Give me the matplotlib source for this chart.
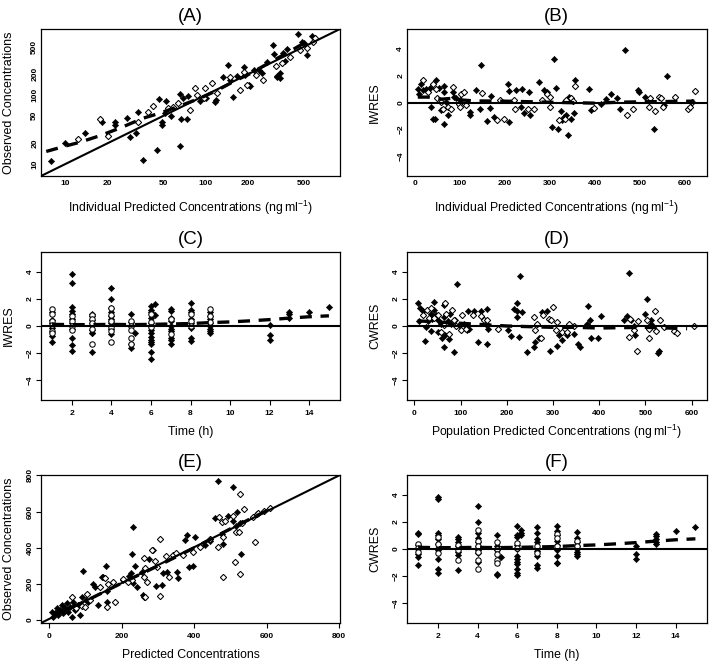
import matplotlib
matplotlib.use("Agg")
import matplotlib.pyplot as plt
import numpy as np

plt.rcParams['font.family'] = ['Liberation Sans', 'DejaVu Sans']
plt.rcParams['mathtext.fontset'] = 'custom'
plt.rcParams['mathtext.rm'] = 'Liberation Sans'
plt.rcParams['mathtext.it'] = 'Liberation Sans:italic'
plt.rcParams['mathtext.bf'] = 'Liberation Sans:bold'
plt.rcParams['mathtext.default'] = 'rm'

# ---------------- Panel A: observed vs individual predicted (log-log) ----------------
a_ipred_filled = [7.9, 10, 13.7, 18.1, 22.5, 22.5, 27.3, 28.7, 32, 33, 35.9, 45.2, 46.6, 49, 49, 52, 51, 57,
                  65.6, 67, 66, 69, 73, 75, 91, 101, 118, 116, 132, 145, 157, 149, 166, 186, 190, 202, 207,
                  222, 238, 250, 272, 302, 307, 322, 322, 339, 357, 382, 339, 370, 458, 571, 530, 485, 500]
a_obs_filled = [11.0, 20.1, 28, 40, 40, 37, 46.7, 25, 28, 57, 11.3, 15.8, 88, 37, 40, 83, 54.6, 50,
                18, 44.8, 104, 90, 45, 97, 81, 90, 86, 78, 181, 272, 95, 165, 190, 258, 195, 140, 135,
                227, 230, 205, 302, 528, 394, 190, 181, 205, 411, 470, 179, 310, 763, 720, 380, 580, 560]
a_ipred_open = [12.2, 17.6, 20.2, 33, 38.9, 41.8, 54, 58.8, 63.8, 77.4, 86, 84, 97, 98, 110, 120, 149, 176,
                188, 196, 227, 257, 315, 348, 400, 470, 530, 585, 600]
a_obs_open = [23, 44.8, 25.7, 41.3, 57.6, 69.6, 64.5, 68, 76, 61, 101, 125, 90, 125, 148, 108, 182, 118,
              216, 138, 194, 166, 263, 289, 360, 444, 473, 590, 660]
a_smooth_x = [7.3, 10.2, 12.6, 17.6, 24.4, 35.9, 47.2, 65.6, 91, 120, 158, 207, 272, 358, 421, 498, 571]
a_smooth_y = [15.2, 18.4, 20.6, 25.7, 33.1, 46.2, 54.6, 69.6, 90, 116, 157, 204, 280, 381, 460, 560, 639]

# ---------------- Panel B: IWRES vs individual predicted ----------------
b_ipred_filled = [7.4, 10, 14, 18, 26, 33, 37, 41, 48, 44, 55, 58, 65, 66, 66, 70, 74, 85, 88, 92, 100,
                  122, 122, 137, 144, 146, 161, 170, 166, 176, 208, 210, 210, 224, 236, 238, 243, 253, 256,
                  275, 286, 294, 305, 308, 314, 318, 325, 326, 331, 336, 341, 343, 347, 353, 356, 387, 392,
                  413, 424, 435, 448, 456, 466, 496, 498, 511, 530, 559, 553]
b_iwres_filled = [1.0, 0.65, 1.4, 0.9, 1.0, 1.1, -0.3, -1.2, 1.65, -1.2, 1.1, -0.55, 1.25, 0.8, -1.6, 0.05,
                  -0.95, 0.8, 0.4, 0.3, 0.15, -0.95, -0.7, 0.95, -0.45, 2.8, -1.35, 0.45, -0.4, -1.05, 1.4,
                  0.85, -1.43, 0.9, -0.35, 1.0, -0.75, 0.77, -0.95, 1.5, 0.9, 0.77, -1.85, 3.2, 1.1, -2.0,
                  -0.6, -1.3, -1.1, -0.95, -2.4, 0.4, -1.2, -0.8, 1.7, 1.0, -0.55, -0.1, 0.25, 0.65, 0.35,
                  -0.45, 3.9, 0.95, 0.8, 0.4, -2.0, 1.95, -0.15]
b_ipred_open = [18, 29, 41, 48, 50, 59, 63, 74, 81, 85, 98, 100, 103, 110, 114, 149, 183, 190, 198, 220,
                223, 251, 264, 282, 294, 299, 301, 321, 334, 336, 347, 352, 356, 397, 471, 483, 520, 522,
                533, 541, 546, 551, 578, 606, 611, 615, 622]
b_iwres_open = [1.7, 0.77, 1.4, 1.0, 0.3, 0.05, -0.45, -0.3, -0.45, 1.15, -0.1, -0.35, 0.65, 0.8, -0.2,
                0.7, -1.3, 0.15, -1.2, 0.15, -0.5, -0.45, -0.45, 0.2, 0.65, 0.4, -0.3, -1.3, -1.2, 0.2, 0.3,
                0.1, 1.25, -0.4, -0.95, -0.45, -0.35, 0.3, -0.6, 0.4, 0.3, -0.3, 0.4, -0.5, -0.3, 0.05, 0.85]
b_smooth_x = [7, 30, 60, 80, 100, 130, 200, 300, 400, 450, 500, 620]
b_smooth_y = [0.4, 0.4, 0.25, 0.3, 0.2, 0.12, 0.1, 0.02, -0.05, 0.02, 0.05, 0.1]

# ---------------- Panel C: IWRES vs time ----------------
c_time = [1, 2, 3, 4, 5, 5.2, 6, 6.2, 7, 8, 9, 12, 13, 14, 15]
c_iwres_filled = [
    [1.0, 0.45, 0.2, 0.0, -0.15, -0.75, -1.15],
    [3.85, 3.2, 1.4, 1.1, 0.9, 0.55, 0.2, -0.2, -0.85, -1.4, -1.85],
    [0.9, 0.7, 0.45, 0.25, -0.3, -0.5, -0.55, -1.9],
    [2.8, 2.0, 1.3, 1.0, 0.75, 0.5, 0.35, 0.2, -0.2, -0.6],
    [0.85, 0.3, 0.0, -1.35, -1.6],
    [-0.5],
    [1.5, 1.2, 1.0, 0.6, 0.2, 0.0, -0.3, -0.55, -0.8, -1.0, -1.2, -1.35, -1.9, -2.4],
    [1.6, 0.8],
    [1.25, 1.1, 0.6, 0.35, 0.0, -0.2, -0.4, -0.85, -1.05, -1.35],
    [1.7, 1.2, 1.0, 0.55, 0.2, -0.15, -0.9, -1.1],
    [1.0, 0.75, 0.5, 0.2, 0.0, -0.2, -0.35, -0.5],
    [0.1, -0.65, -1.0],
    [1.0, 0.85, 0.6],
    [1.05],
    [1.4],
]
c_iwres_open = [
    [1.25, 0.85, 0.35, 0.1, -0.35, -0.55],
    [0.75, 0.4, 0.0, -0.3],
    [0.8, 0.55, 0.2, -0.25, -1.3],
    [1.3, 0.8, 0.35, -0.1, -0.35, -1.15],
    [0.4, 0.0, -0.3, -0.85, -1.3],
    [],
    [0.85, 0.3, -0.1],
    [],
    [0.5, -0.6],
    [0.85, 0.35, 0.0],
    [1.25, 0.7, 0.3],
    [], [], [], [],
]
c_smooth_x = [1, 2, 3, 4, 5, 6, 7, 8, 9, 10, 11, 12, 13, 14, 15]
c_smooth_y = [0.12, 0.1, 0.1, 0.12, 0.1, 0.12, 0.15, 0.18, 0.25, 0.3, 0.38, 0.47, 0.58, 0.68, 0.75]

# ---------------- Panel D: CWRES vs population predicted ----------------
d_pred_filled = [7.2, 12, 10.5, 18, 23, 25, 30, 37, 39, 36, 42, 43, 47, 50, 52, 57, 59, 63, 63, 65, 66, 72,
                 74, 77, 80, 85, 88, 93, 97, 108, 114, 117, 119, 130, 137, 144, 158, 158, 160, 203, 209,
                 216, 222, 223, 223, 228, 226, 233, 243, 259, 262, 270, 277, 286, 293, 309, 313, 320, 331,
                 345, 354, 358, 376, 373, 381, 382, 397, 403, 453, 459, 464, 468, 478, 475, 498, 503, 511,
                 511, 527, 529]
d_cwres_filled = [1.68, 1.35, 0.4, 1.07, -1.1, -0.07, 0.37, 0.85, 0.53, -0.36, 1.75, 1.15, 0.78, 0.41,
                  -0.44, 0.17, -0.92, 0.66, 1.56, -1.58, -0.68, 0.37, -0.97, 0.9, 0.12, -1.9, 0.41, 3.1,
                  0.05, 0.17, -0.32, 1.14, -0.2, 1.1, -1.17, 1.1, 1.27, -1.34, -0.22, -0.32, -0.7, 1.27,
                  1.14, 1.7, 0.66, 3.65, -0.8, 1.0, -1.9, -1.58, -1.17, -0.92, 1.0, 1.1, -1.82, -1.48,
                  -0.68, -1.05, -0.68, -0.56, -1.29, -1.53, 1.44, 0.17, 0.41, -0.92, -0.92, 0.73, 0.46,
                  0.7, 3.87, 0.41, -0.68, -0.02, 0.9, 2.0, 0.41, 0.17, -1.97, -1.85]
d_pred_open = [18, 27, 32, 37, 43, 52, 57, 63, 66, 68, 75, 81, 86, 90, 101, 104, 111, 126, 145, 150, 155,
               158, 181, 259, 261, 265, 275, 279, 291, 295, 300, 306, 309, 320, 331, 334, 345, 464, 466,
               475, 482, 483, 503, 507, 508, 521, 523, 532, 539, 561, 568, 604]
d_cwres_open = [0.78, 1.2, 0.6, 1.34, 0.58, 0.78, -0.44, 0.05, 1.68, 0.9, -0.56, 1.2, 0.41, -0.02, -0.32,
                0.78, -0.2, 0.78, 0.7, 0.41, 0.17, 0.41, -0.24, 0.66, -0.32, 0.17, -0.92, 0.83, 0.49, 0.41,
                1.39, -0.27, 0.29, -0.44, -0.44, 0.17, 0.0, -0.8, 0.54, -0.32, -1.85, 0.37, 0.41, -0.92,
                -0.2, 1.1, -0.39, 0.41, -0.07, -0.34, -0.51, -0.02]
d_smooth_x = [7, 50, 100, 150, 200, 250, 300, 350, 400, 450, 500, 550, 590]
d_smooth_y = [0.38, 0.3, 0.2, 0.1, 0.0, -0.05, -0.1, -0.1, -0.15, -0.12, -0.1, -0.15, -0.2]

# ---------------- Panel E: observed vs predicted (linear) ----------------
e_pred_filled = [6.4, 11, 16, 20, 25, 29, 34, 39, 43, 48, 52, 57, 62, 66, 71, 80, 85, 89, 94, 101, 108,
                 120, 126, 135, 145, 149, 156, 160, 158, 204, 220, 225, 230, 227, 230, 237, 241, 255, 258,
                 260, 276, 287, 293, 310, 315, 324, 353, 356, 375, 379, 384, 396, 402, 430, 442, 457, 464,
                 476, 478, 494, 506, 508, 519, 528, 515, 525]
e_obs_filled = [46, 18, 37, 65, 28, 55, 83, 37, 65, 92, 46, 74, 18, 101, 55, 83, 28, 129, 271, 111, 101,
                199, 184, 83, 238, 236, 300, 100, 160, 221, 243, 258, 514, 367, 203, 299, 184, 267, 138,
                129, 337, 387, 188, 194, 258, 267, 267, 234, 442, 470, 291, 299, 461, 415, 437, 562, 770,
                474, 420, 575, 734, 548, 599, 365, 520, 535]
e_pred_open = [62, 74, 89, 99, 105, 112, 140, 154, 158, 163, 180, 177, 204, 218, 227, 260, 264, 262, 264,
               269, 283, 292, 296, 304, 306, 322, 329, 342, 350, 368, 396, 416, 442, 465, 469, 476, 480,
               478, 486, 508, 513, 515, 522, 525, 525, 531, 536, 562, 568, 573, 577, 591, 608]
e_obs_open = [129, 65, 77, 74, 144, 111, 184, 230, 70, 199, 101, 208, 225, 212, 221, 341, 289, 240, 125,
              212, 387, 328, 295, 446, 135, 354, 240, 359, 369, 359, 378, 405, 448, 405, 571, 544, 240,
              457, 546, 575, 323, 488, 488, 697, 253, 538, 614, 571, 433, 586, 594, 601, 617]
e_smooth_x = [8, 30, 60, 100, 150, 200, 300, 400, 500, 605]
e_smooth_y = [38, 48, 70, 105, 155, 205, 300, 400, 505, 610]

# ---------------- Panel F: CWRES vs time ----------------
f_time = [1, 2, 3, 4, 5, 5.2, 6, 6.2, 7, 8, 9, 12, 13, 14, 15]
f_cwres_filled = [
    [1.2, 1.1, 0.3, 0.0, -0.4, -0.6, -1.2],
    [3.85, 3.7, 1.2, 1.0, 0.7, 0.4, 0.1, -0.1, -0.7, -1.45, -1.75],
    [0.85, 0.7, 0.5, 0.2, -0.2, -0.45, -1.55],
    [3.15, 2.0, 1.2, 0.8, 0.5, 0.2, -0.1, -0.3, -0.95],
    [1.0, 0.2, -0.1, -1.85, -1.95],
    [-0.6],
    [1.7, 1.0, 0.9, 0.3, 0.0, -0.5, -0.75, -0.95, -1.1, -1.45, -1.75, -1.95],
    [1.4, 1.2, 1.05],
    [1.65, 1.2, 0.7, 0.5, 0.0, -0.15, -0.5, -1.15, -1.4],
    [1.7, 1.3, 1.0, 0.6, 0.3, -0.1, -0.5, -1.0, -1.05],
    [1.25, 0.8, 0.5, 0.2, 0.0, -0.2, -0.4, -0.5],
    [0.2, -0.35, -0.75],
    [1.1, 0.95, 0.75, 0.55, 0.35],
    [1.35],
    [1.65],
]
f_cwres_open = [
    [0.4, 0.1, -0.25],
    [0.85, 0.35, -0.3],
    [0.3, -0.1, -0.8],
    [1.4, 0.6, 0.25, -0.25, -0.8, -1.5],
    [0.5, 0.0, -0.35, -0.8, -1.0],
    [],
    [0.45, 0.05],
    [],
    [0.25, -0.3],
    [1.1, 0.8, 0.25],
    [0.6, 0.25],
    [], [], [], [],
]
f_smooth_x = [1, 2, 3, 4, 5, 6, 7, 8, 9, 10, 11, 12, 13, 14, 15]
f_smooth_y = [0.12, 0.1, 0.1, 0.12, 0.1, 0.12, 0.15, 0.18, 0.25, 0.3, 0.38, 0.47, 0.58, 0.68, 0.75]


def flatten(times, groups):
    xs, ys = [], []
    for t, vals in zip(times, groups):
        for v in vals:
            xs.append(t)
            ys.append(v)
    return xs, ys


W, H = 709, 664
fig = plt.figure(figsize=(W / 100, H / 100), dpi=100)

def px_axes(x0, y0, x1, y1):
    return fig.add_axes([x0 / W, 1 - y1 / H, (x1 - x0) / W, (y1 - y0) / H])

axA = px_axes(41, 29, 340, 176)
axB = px_axes(407, 29, 706.5, 176)
axC = px_axes(41, 252, 340, 400)
axD = px_axes(407, 252, 706.5, 400)
axE = px_axes(41, 475, 340, 623)
axF = px_axes(407, 475, 706.5, 623)

FILL = dict(marker='D', linestyle='none', color='black', markersize=3.2, markeredgewidth=0.4, zorder=3)
OPEN_D = dict(marker='D', linestyle='none', markerfacecolor='white', markeredgecolor='black',
              markersize=3.2, markeredgewidth=0.75, zorder=3)
OPEN_O = dict(marker='o', linestyle='none', markerfacecolor='white', markeredgecolor='black',
              markersize=3.9, markeredgewidth=0.75, zorder=3)
SMOOTH = dict(color='black', linewidth=2.4, linestyle=(0, (3.6, 2.6)), zorder=4,
              solid_capstyle='butt', dash_capstyle='butt')
REF = dict(color='black', linewidth=1.5, zorder=5)


def style(ax, title, xlabel, ylabel, top_row=False):
    ax.set_title(title, fontsize=13.5, pad=5.5)
    for s in ax.spines.values():
        s.set_linewidth(0.9)
    if top_row:
        ax.tick_params(axis='both', length=0, labelsize=6, width=0.8)
        ax.tick_params(axis='x', pad=3)
        ax.tick_params(axis='y', pad=2)
    else:
        ax.tick_params(axis='both', direction='out', length=3.6, width=0.8, labelsize=6)
        ax.tick_params(axis='x', pad=3.5)
        ax.tick_params(axis='y', pad=1.5)
    for lab in ax.get_xticklabels() + ax.get_yticklabels():
        lab.set_fontweight('bold')
    for lab in ax.get_yticklabels():
        lab.set_rotation(90)
        lab.set_va('center')
    ax.set_xlabel(xlabel, fontsize=8.8)
    ax.set_ylabel(ylabel, fontsize=9)
    bb = ax.get_position()
    hpx = bb.height * H
    wpx = bb.width * W
    ax.xaxis.set_label_coords(0.5, -32 / hpx)
    ax.xaxis.label.set_va('center')
    ax.yaxis.set_label_coords(-32 / wpx, 0.5)
    ax.yaxis.label.set_va('center')


unit_lab = 'Individual Predicted Concentrations (ng\u2009ml$^{-1}$)'

# Panel A
axA.set_xscale('log')
axA.set_yscale('log')
lim = (6.7, 905)
axA.set_xlim(lim)
axA.set_ylim(lim)
axA.plot(lim, lim, **REF)
axA.plot(a_ipred_filled, a_obs_filled, **FILL)
axA.plot(a_ipred_open, a_obs_open, **OPEN_D)
axA.plot(a_smooth_x, a_smooth_y, **SMOOTH)
a_ticks = [10, 20, 50, 100, 200, 500]
axA.set_xticks(a_ticks)
axA.set_yticks(a_ticks)
axA.set_xticklabels([str(t) for t in a_ticks])
axA.set_yticklabels([str(t) for t in a_ticks])
axA.minorticks_off()
style(axA, '(A)', unit_lab, 'Observed Concentrations', top_row=True)

# Panel B
axB.set_xlim(-17, 647)
axB.set_ylim(-5.45, 5.45)
axB.axhline(0, **REF)
axB.plot(b_ipred_filled, b_iwres_filled, **FILL)
axB.plot(b_ipred_open, b_iwres_open, **OPEN_D)
axB.plot(b_smooth_x, b_smooth_y, **SMOOTH)
axB.set_xticks([0, 100, 200, 300, 400, 500, 600])
axB.set_yticks([-4, -2, 0, 2, 4])
style(axB, '(B)', unit_lab, 'IWRES', top_row=True)

# Panel C
cxf, cyf = flatten(c_time, c_iwres_filled)
cxo, cyo = flatten(c_time, c_iwres_open)
axC.set_xlim(0.44, 15.56)
axC.set_ylim(-5.45, 5.45)
axC.axhline(0, **REF)
axC.plot(cxf, cyf, **FILL)
axC.plot(cxo, cyo, **OPEN_O)
axC.plot(c_smooth_x, c_smooth_y, **SMOOTH)
axC.set_xticks([2, 4, 6, 8, 10, 12, 14])
axC.set_yticks([-4, -2, 0, 2, 4])
style(axC, '(C)', 'Time (h)', 'IWRES')

# Panel D
axD.set_xlim(-16, 632)
axD.set_ylim(-5.45, 5.45)
axD.axhline(0, **REF)
axD.plot(d_pred_filled, d_cwres_filled, **FILL)
axD.plot(d_pred_open, d_cwres_open, **OPEN_D)
axD.plot(d_smooth_x, d_smooth_y, **SMOOTH)
axD.set_xticks([0, 100, 200, 300, 400, 500, 600])
axD.set_yticks([-4, -2, 0, 2, 4])
style(axD, '(D)', 'Population Predicted Concentrations (ng\u2009ml$^{-1}$)', 'CWRES')

# Panel E
axE.set_xlim(-23, 802)
axE.set_ylim(-16, 802)
axE.plot([-23, 802], [-16, 802], **REF)
axE.plot(e_pred_filled, e_obs_filled, **FILL)
axE.plot(e_pred_open, e_obs_open, **OPEN_D)
axE.plot(e_smooth_x, e_smooth_y, **SMOOTH)
axE.set_xticks([0, 200, 400, 600, 800])
axE.set_yticks([0, 200, 400, 600, 800])
style(axE, '(E)', 'Predicted Concentrations', 'Observed Concentrations')

# Panel F
fxf, fyf = flatten(f_time, f_cwres_filled)
fxo, fyo = flatten(f_time, f_cwres_open)
axF.set_xlim(0.44, 15.56)
axF.set_ylim(-5.45, 5.45)
axF.axhline(0, **REF)
axF.plot(fxf, fyf, **FILL)
axF.plot(fxo, fyo, **OPEN_O)
axF.plot(f_smooth_x, f_smooth_y, **SMOOTH)
axF.set_xticks([2, 4, 6, 8, 10, 12, 14])
axF.set_yticks([-4, -2, 0, 2, 4])
style(axF, '(F)', 'Time (h)', 'CWRES')

fig.savefig('out.png', dpi=100)
